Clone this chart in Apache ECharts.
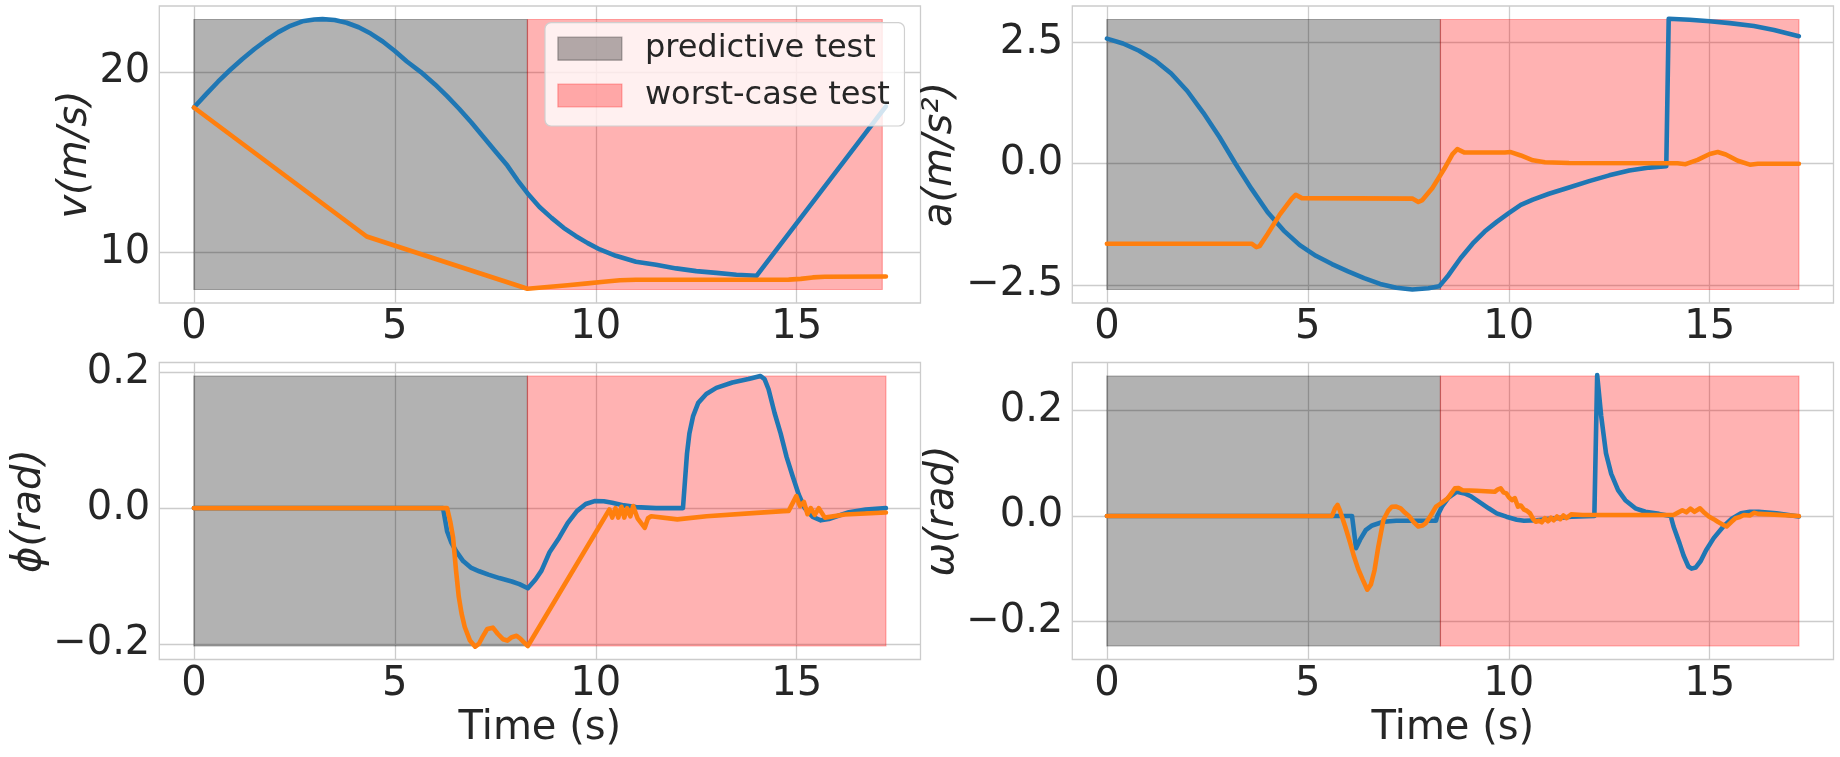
<!DOCTYPE html>
<html>
<head>
<meta charset="utf-8">
<script src="https://cdn.jsdelivr.net/npm/echarts@6/dist/echarts.min.js"></script>
<style>
  html, body { margin: 0; padding: 0; background: #fff; }
  #chart { width: 1840px; height: 757px; }
</style>
</head>
<body>
<div id="chart"></div>
<script>
// time axis
const xTicks = [0, 5, 10, 15];
const tSplit = 8.3;
const tEnd = 17.22;
const bandEnd = [17.13, 17.22, 17.22, 17.22];

// y ticks per panel
const vTicks = [10, 20];
const aTicks = [-2.5, 0, 2.5];
const phiTicks = [-0.2, 0, 0.2];
const omegaTicks = [-0.2, 0, 0.2];

// vertical extent of the shaded bands (also drives autoscale)
const vBand = [7.93, 22.9];
const aBand = [-2.595, 2.975];
const phiBand = [-0.203, 0.1945];
const omegaBand = [-0.247, 0.266];

// velocity v (m/s)
const vBlue = [[0,18.02],[0.3,18.75],[0.6,19.45],[0.9,20.1],[1.2,20.7],[1.5,21.25],[1.8,21.75],[2.1,22.2],
  [2.4,22.55],[2.7,22.8],[3.0,22.9],[3.2,22.92],[3.5,22.87],[3.8,22.72],[4.1,22.47],[4.4,22.12],[4.7,21.68],
  [5.0,21.15],[5.3,20.57],[5.64,20.0],[6.0,19.3],[6.3,18.65],[6.6,17.95],[6.9,17.2],[7.2,16.4],[7.5,15.6],
  [7.8,14.8],[8.05,14.0],[8.3,13.27],[8.6,12.5],[8.9,11.9],[9.2,11.35],[9.5,10.9],[9.8,10.5],[10.1,10.15],
  [10.5,9.8],[11.0,9.47],[11.5,9.3],[12.0,9.1],[12.5,8.95],[13.0,8.85],[13.5,8.75],[14.0,8.69],[17.22,18.08]];
const vOrange = [[0,18.02],[4.3,10.87],[8.3,7.97],[8.8,8.07],[9.3,8.17],[9.8,8.27],[10.2,8.36],[10.6,8.44],
  [11.0,8.47],[14.8,8.48],[15.1,8.52],[15.4,8.6],[15.7,8.64],[17.22,8.65]];

// acceleration a (m/s^2)
const aBlue = [[0,2.58],[0.4,2.48],[0.8,2.33],[1.2,2.13],[1.6,1.86],[2.0,1.5],[2.4,1.05],[2.8,0.55],[3.2,0.0],
  [3.6,-0.52],[4.0,-1.0],[4.4,-1.38],[4.8,-1.68],[5.2,-1.9],[5.6,-2.07],[6.0,-2.22],[6.4,-2.36],[6.8,-2.48],
  [7.2,-2.56],[7.6,-2.595],[8.0,-2.57],[8.27,-2.53],[8.5,-2.3],[8.8,-1.95],[9.1,-1.65],[9.4,-1.4],[9.7,-1.2],
  [10.0,-1.02],[10.3,-0.85],[10.6,-0.74],[11.0,-0.62],[11.5,-0.49],[12.0,-0.36],[12.5,-0.24],[13.0,-0.14],
  [13.5,-0.08],[13.92,-0.05],[13.98,2.99],[14.5,2.97],[15.0,2.94],[15.5,2.9],[16.1,2.84],[16.6,2.76],[17.22,2.63]];
const aOrange = [[0,-1.65],[3.6,-1.65],[3.72,-1.72],[3.8,-1.7],[4.0,-1.45],[4.3,-1.05],[4.6,-0.72],[4.7,-0.64],
  [4.85,-0.71],[7.6,-0.72],[7.75,-0.79],[7.85,-0.75],[8.1,-0.5],[8.4,-0.1],[8.6,0.2],[8.72,0.3],[8.9,0.23],
  [9.9,0.23],[10.05,0.24],[10.3,0.17],[10.6,0.07],[10.9,0.03],[11.5,0.015],[14.2,0.01],[14.4,-0.01],[14.7,0.08],
  [15.0,0.2],[15.2,0.24],[15.4,0.19],[15.7,0.06],[16.0,-0.02],[16.2,0.0],[17.22,0.0]];

// roll angle phi (rad)
const phiBlue = [[0,0],[6.2,0],[6.3,-0.034],[6.4,-0.05],[6.52,-0.063],[6.7,-0.078],[6.89,-0.0875],[7.1,-0.093],
  [7.33,-0.098],[7.6,-0.103],[7.91,-0.108],[8.1,-0.112],[8.31,-0.118],[8.5,-0.105],[8.65,-0.092],[8.85,-0.065],
  [9.09,-0.0435],[9.3,-0.022],[9.53,-0.0044],[9.75,0.006],[9.97,0.0103],[10.2,0.01],[10.41,0.0078],[10.7,0.004],
  [11.0,0.0015],[11.5,0.0],[12.17,0],[12.22,0.04],[12.27,0.08],[12.33,0.11],[12.42,0.135],[12.55,0.155],
  [12.75,0.168],[13.0,0.177],[13.4,0.185],[13.8,0.19],[14.1,0.1945],[14.2,0.19],[14.3,0.175],[14.45,0.14],
  [14.6,0.11],[14.75,0.075],[14.9,0.047],[15.05,0.02],[15.2,0.0],[15.4,-0.013],[15.6,-0.018],[15.8,-0.016],
  [16.0,-0.012],[16.3,-0.006],[16.72,-0.002],[17.22,0.0]];
const phiOrange = [[0,0],[6.3,0],[6.38,-0.02],[6.45,-0.0435],[6.52,-0.09],[6.59,-0.13],[6.66,-0.155],[6.74,-0.175],
  [6.87,-0.195],[7.0,-0.204],[7.09,-0.2],[7.18,-0.19],[7.3,-0.178],[7.44,-0.176],[7.56,-0.185],[7.69,-0.193],
  [7.8,-0.195],[7.91,-0.19],[8.03,-0.188],[8.12,-0.192],[8.2,-0.197],[8.31,-0.203],[10.34,-0.002],[10.41,-0.014],
  [10.49,0.0],[10.56,-0.014],[10.64,0.002],[10.71,-0.014],[10.78,0.0],[10.86,-0.012],[10.93,0.003],[11.04,-0.015],
  [11.13,-0.022],[11.22,-0.029],[11.3,-0.015],[11.38,-0.012],[12.03,-0.0166],[12.76,-0.012],[14.0,-0.007],
  [14.67,-0.0044],[14.8,-0.004],[14.99,0.0176],[15.08,0.003],[15.18,0.009],[15.27,-0.009],[15.35,0.0],
  [15.45,-0.01],[15.55,0.0],[15.7,-0.014],[16.2,-0.0093],[17.22,-0.0065]];

// yaw rate omega (rad)
const omegaBlue = [[0,0],[6.1,0],[6.15,-0.03],[6.2,-0.061],[6.3,-0.045],[6.44,-0.027],[6.6,-0.018],[6.88,-0.011],
  [7.2,-0.009],[8.19,-0.009],[8.22,0.0],[8.34,0.018],[8.5,0.035],[8.7,0.046],[8.9,0.043],[9.07,0.037],[9.3,0.025],
  [9.5,0.0146],[9.7,0.005],[9.94,-0.0013],[10.2,-0.007],[10.38,-0.009],[10.7,-0.008],[10.96,-0.006],[11.55,-0.0013],
  [12.13,0.0],[12.2,0.268],[12.3,0.19],[12.42,0.119],[12.55,0.08],[12.72,0.049],[12.9,0.03],[13.15,0.0146],
  [13.4,0.008],[13.74,0.004],[14.03,0.0],[14.1,-0.02],[14.25,-0.052],[14.35,-0.075],[14.47,-0.096],[14.55,-0.1],
  [14.65,-0.098],[14.78,-0.085],[14.91,-0.065],[15.1,-0.042],[15.34,-0.02],[15.55,-0.005],[15.78,0.005],
  [16.0,0.008],[16.22,0.008],[16.66,0.005],[17.22,-0.001]];
const omegaOrange = [[0,0],[5.6,0],[5.68,0.015],[5.74,0.021],[5.8,0.01],[5.93,-0.02],[6.05,-0.05],[6.15,-0.077],
  [6.25,-0.1],[6.36,-0.12],[6.48,-0.14],[6.57,-0.13],[6.66,-0.103],[6.75,-0.06],[6.88,-0.0076],[7.0,0.01],
  [7.09,0.0177],[7.2,0.018],[7.31,0.0146],[7.42,0.006],[7.53,-0.001],[7.64,-0.012],[7.75,-0.02],[7.85,-0.018],
  [7.93,-0.014],[8.05,0.0],[8.19,0.0177],[8.33,0.025],[8.48,0.0335],[8.58,0.044],[8.66,0.0525],[8.75,0.053],
  [8.85,0.049],[9.2,0.048],[9.65,0.046],[9.72,0.05],[9.8,0.0525],[9.87,0.045],[9.94,0.043],[10.0,0.036],
  [10.08,0.03],[10.15,0.034],[10.23,0.0177],[10.3,0.02],[10.38,0.012],[10.45,0.01],[10.53,0.005],[10.6,-0.005],
  [10.67,-0.011],[10.75,-0.009],[10.82,-0.012],[10.9,-0.004],[10.98,-0.01],[11.05,-0.003],[11.12,-0.008],
  [11.2,-0.001],[11.28,-0.006],[11.36,0.001],[11.44,-0.004],[11.55,0.003],[11.84,0.002],[14.1,0.002],[14.2,0.006],
  [14.32,0.011],[14.42,0.007],[14.52,0.014],[14.62,0.008],[14.76,0.0146],[14.87,0.006],[14.98,-0.001],
  [15.1,-0.006],[15.2,-0.011],[15.32,-0.016],[15.42,-0.02],[15.53,-0.012],[15.64,-0.0044],[15.75,-0.002],
  [15.85,0.002],[16.0,0.001],[16.1,0.006],[16.22,0.004],[16.5,0.003],[17.22,0.0]];

const legendNames = ['predictive test', 'worst-case test'];

const BLUE = '#1f77b4', ORANGE = '#ff7f0e', TXT = '#262626', GRIDC = '#cccccc';
const GRAY_FILL = 'rgba(0,0,0,0.3)', RED_FILL = 'rgba(255,0,0,0.3)';
const FONT = 'DejaVu Sans';

const panels = [
  { blue: vBlue, orange: vOrange, band: vBand, ticks: vTicks, digits: 0, name: 'v(m/s)', gap: 62.5 },
  { blue: aBlue, orange: aOrange, band: aBand, ticks: aTicks, digits: 1, name: 'a(m/s\u00b2)', gap: 112 },
  { blue: phiBlue, orange: phiOrange, band: phiBand, ticks: phiTicks, digits: 1, name: '\u03d5(rad)', gap: 107.5 },
  { blue: omegaBlue, orange: omegaOrange, band: omegaBand, ticks: omegaTicks, digits: 1, name: '\u03c9(rad)', gap: 107 }
];

const boxes = [
  { left: 159.3, top: 6 }, { left: 1072.3, top: 6 },
  { left: 159.3, top: 362.5 }, { left: 1072.3, top: 362.5 }
];

function fmt(digits) {
  return function (v) {
    const s = Math.abs(v).toFixed(digits);
    return (v < -1e-9 ? '\u2212' : '') + s;
  };
}

const grid = [], xAxis = [], yAxis = [], series = [];

panels.forEach(function (p, i) {
  grid.push({
    left: boxes[i].left, top: boxes[i].top, width: 761.2, height: 297,
    show: true, borderColor: GRIDC, borderWidth: 1.3, backgroundColor: 'transparent'
  });
  xAxis.push({
    type: 'value', gridIndex: i,
    min: -0.05 * tEnd, max: tEnd * 1.05,
    axisLine: { show: false },
    axisTick: { show: false, customValues: xTicks },
    axisLabel: { customValues: xTicks, fontSize: 40, fontFamily: FONT, color: TXT, margin: 5 },
    splitLine: { show: true, lineStyle: { color: GRIDC, width: 1.3 } },
    name: i >= 2 ? 'Time (s)' : '',
    nameLocation: 'middle', nameGap: 49,
    nameTextStyle: { fontSize: 40, fontFamily: FONT, color: TXT }
  });
  const span = p.band[1] - p.band[0];
  yAxis.push({
    type: 'value', gridIndex: i,
    min: p.band[0] - 0.05 * span, max: p.band[1] + 0.05 * span,
    axisLine: { show: false },
    axisTick: { show: false, customValues: p.ticks },
    axisLabel: { customValues: p.ticks, fontSize: 40, fontFamily: FONT, color: TXT, margin: 9, formatter: fmt(p.digits) },
    splitLine: { show: true, lineStyle: { color: GRIDC, width: 1.3 } },
    name: p.name, nameLocation: 'middle', nameRotate: 90, nameGap: p.gap,
    nameTextStyle: { fontSize: 40, fontFamily: FONT, fontStyle: 'italic', color: TXT }
  });
  series.push({
    type: 'line', xAxisIndex: i, yAxisIndex: i, data: p.blue,
    showSymbol: false, symbol: 'none', silent: true, z: 3,
    lineStyle: { color: BLUE, width: 4.6, cap: 'round', join: 'round' },
    markArea: {
      silent: true,
      data: [
        [{ xAxis: 0, yAxis: p.band[0], itemStyle: { color: GRAY_FILL, borderColor: GRAY_FILL, borderWidth: 1.2 } },
         { xAxis: tSplit, yAxis: p.band[1] }],
        [{ xAxis: tSplit, yAxis: p.band[0], itemStyle: { color: RED_FILL, borderColor: RED_FILL, borderWidth: 1.2 } },
         { xAxis: bandEnd[i], yAxis: p.band[1] }]
      ]
    }
  });
  series.push({
    type: 'line', xAxisIndex: i, yAxisIndex: i, data: p.orange,
    showSymbol: false, symbol: 'none', silent: true, z: 4,
    lineStyle: { color: ORANGE, width: 4.6, cap: 'round', join: 'round' }
  });
});

// legend-only entries
legendNames.forEach(function (n) {
  series.push({ type: 'line', name: n, xAxisIndex: 0, yAxisIndex: 0, data: [] });
});

const chart = echarts.init(document.getElementById('chart'), null, { renderer: 'canvas' });
chart.setOption({
  animation: false,
  backgroundColor: '#ffffff',
  grid: grid, xAxis: xAxis, yAxis: yAxis, series: series,
  legend: {
    orient: 'vertical', left: 545, top: 22.7,
    selectedMode: false,
    backgroundColor: 'rgba(255,255,255,0.8)',
    borderColor: '#d0d0d0', borderWidth: 1.2, borderRadius: 6,
    padding: [10, 14.7, 14.5, 12.3],
    itemWidth: 64, itemHeight: 23, itemGap: 14.8,
    textStyle: { fontSize: 32, fontFamily: FONT, color: TXT, lineHeight: 32, padding: [0, 0, 0, 18] },
    data: [
      { name: legendNames[0], icon: 'rect', itemStyle: { color: GRAY_FILL, borderColor: GRAY_FILL, borderWidth: 1.2 } },
      { name: legendNames[1], icon: 'rect', itemStyle: { color: RED_FILL, borderColor: RED_FILL, borderWidth: 1.2 } }
    ]
  }
});
</script>
</body>
</html>
